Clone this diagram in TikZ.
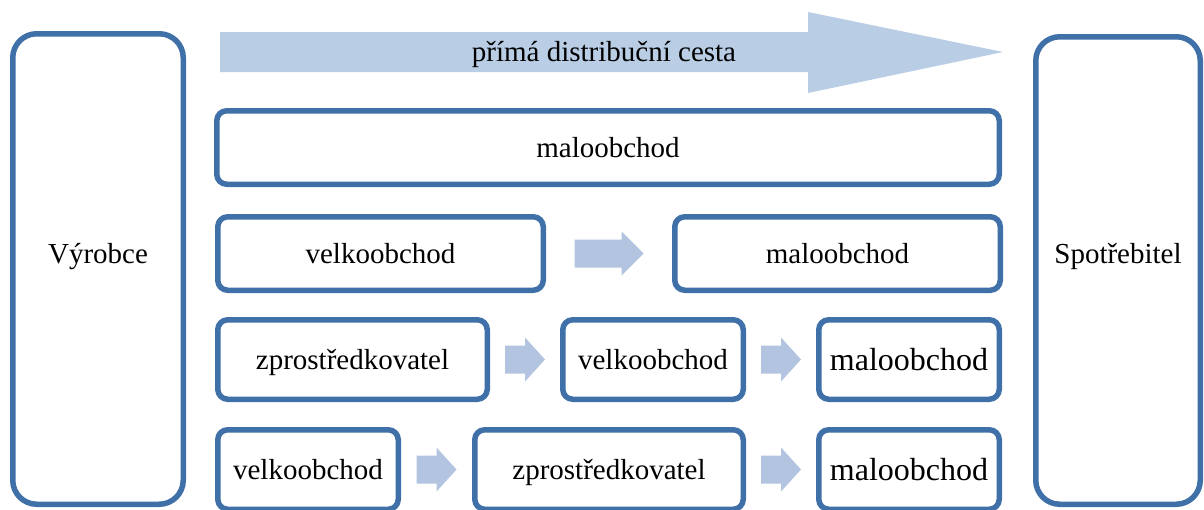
\documentclass[tikz,border=0pt]{standalone}
\usepackage{fontspec}
\setmainfont{Liberation Serif}
\usetikzlibrary{calc}

\definecolor{boxblue}{RGB}{64,112,168}
\definecolor{bigarrowfill}{RGB}{185,205,229}
\definecolor{smallarrowfill}{RGB}{178,196,224}

\tikzset{
  stagebox/.style={draw=boxblue, line width=5.5pt, rounded corners=10pt,
    fill=white, inner sep=0pt, font=\fontsize{29}{34}\selectfont,
    text height=20pt, text depth=0.5pt},
  sidebox/.style={stagebox, rounded corners=24pt},
  bigtext/.style={font=\fontsize{32}{38}\selectfont, text height=21pt, text depth=0pt},
  plaintext/.style={inner sep=0pt, font=\fontsize{29}{34}\selectfont,
    text height=20pt, text depth=1pt},
}

% block arrow centred between two nodes: #1 from, #2 to, #3 length, #4 head length
\newcommand{\flowarrow}[4]{%
  \begin{scope}[shift={($(#1.east)!.5!(#2.west)$)}]
    \fill[smallarrowfill] (-#3/2,-14) -- (#3/2-#4,-14) -- (#3/2-#4,-22)
      -- (#3/2,0) -- (#3/2-#4,22) -- (#3/2-#4,14) -- (-#3/2,14) -- cycle;
  \end{scope}}

\begin{document}
\begin{tikzpicture}[x=1pt,y=-1pt]
  \useasboundingbox (0,0) rectangle (1204,509);

  % producer and consumer
  \node[sidebox, minimum width=170.5pt, minimum height=470.5pt] (prod) at (98,269) {};
  \node[sidebox, minimum width=164.5pt, minimum height=467.5pt] (cons) at (1118,270.5) {};

  % direct channel arrow
  \fill[bigarrowfill] (220,32) -- (808,32) -- (808,12) -- (1003,52)
    -- (808,93) -- (808,72) -- (220,72) -- cycle;
  \node[plaintext] (direct) at (604,52) {přímá distribuční cesta};

  % one-level channel
  \node[stagebox, minimum width=782.5pt, minimum height=73.5pt] (r1) at (608,147.5) {maloobchod};

  % two-level channel
  \node[stagebox, minimum width=325.5pt, minimum height=73.5pt] (r2a) at (380.5,253.5) {velkoobchod};
  \node[stagebox, minimum width=325.5pt, minimum height=73.5pt] (r2b) at (837.5,253.5) {maloobchod};

  % three-level channels
  \node[stagebox, minimum width=269.5pt, minimum height=79.5pt] (r3a) at (352.5,359.5) {zprostředkovatel};
  \node[stagebox, minimum width=180.5pt, minimum height=79.5pt] (r3b) at (653,359.5) {velkoobchod};
  \node[stagebox, bigtext, minimum width=180.5pt, minimum height=79.5pt] (r3c) at (909,359.5) {maloobchod};

  \node[stagebox, minimum width=180.5pt, minimum height=79.5pt] (r4a) at (308,469.5) {velkoobchod};
  \node[stagebox, minimum width=268.5pt, minimum height=79.5pt] (r4b) at (609,469.5) {zprostředkovatel};
  \node[stagebox, bigtext, minimum width=180.5pt, minimum height=79.5pt] (r4c) at (909,469.5) {maloobchod};

  % side labels, level with the two-level row
  \node[plaintext] (prodlabel) at (prod.center |- r2a.center) {Výrobce};
  \node[plaintext] (conslabel) at (cons.center |- r2a.center) {Spotřebitel};

  % flow arrows
  \flowarrow{r2a}{r2b}{69}{22}
  \flowarrow{r3a}{r3b}{40}{20}
  \flowarrow{r3b}{r3c}{40}{20}
  \flowarrow{r4a}{r4b}{40}{20}
  \flowarrow{r4b}{r4c}{40}{20}
\end{tikzpicture}
\end{document}
